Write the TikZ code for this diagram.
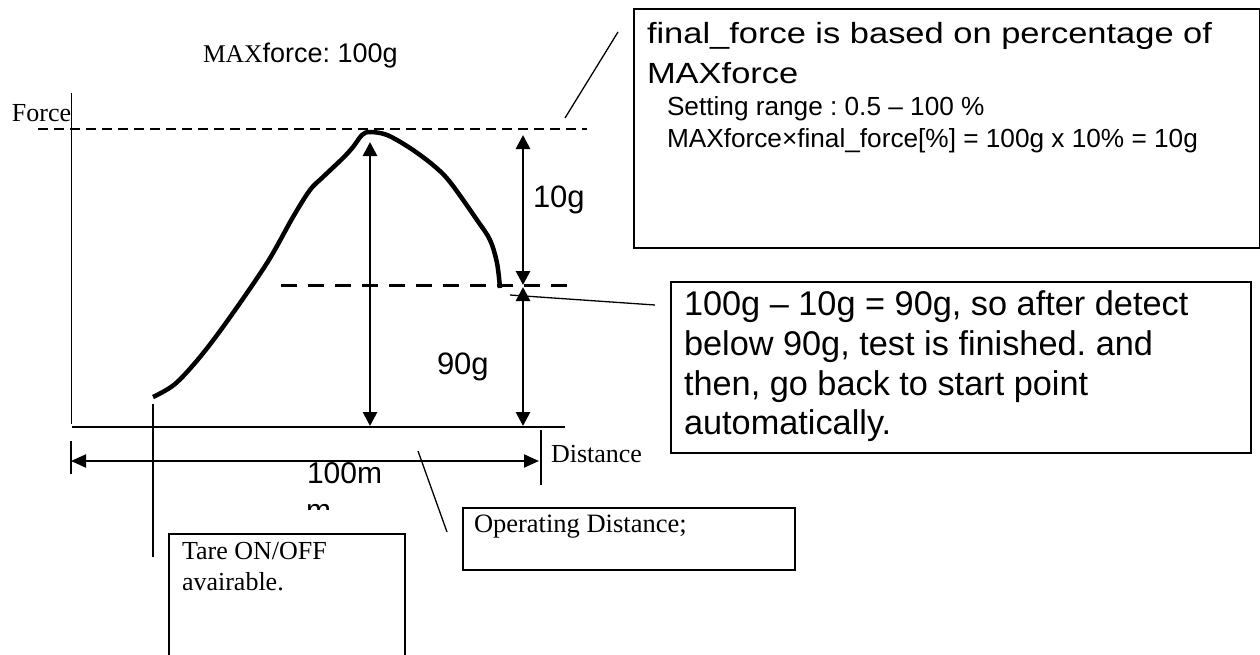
\documentclass[tikz,border=0pt]{standalone}
\usepackage{fontspec}
\setmainfont{Liberation Serif}
\newfontfamily\ars{Liberation Sans}
\newfontfamily\arsw[FakeStretch=1.18]{Liberation Sans}
\usetikzlibrary{arrows.meta}
\frenchspacing
\begin{document}
\begin{tikzpicture}[x=1pt,y=-1pt,
  lbl/.style={inner sep=0pt, outer sep=0pt, anchor=base west},
  serif/.style={lbl, font=\fontsize{26}{30}\selectfont},
  thinline/.style={line width=1.3pt},
  boxline/.style={draw, line width=1.8pt, inner sep=0pt, anchor=north west},
  dimarrow/.style={line width=2.8pt, {Triangle[width=14pt,length=14pt]}-{Triangle[width=14pt,length=14pt]}},
  distarrow/.style={line width=2pt, {Triangle[width=13pt,length=15pt]}-{Triangle[width=13pt,length=15pt]}},
  thindash/.style={line width=1.8pt, dash pattern=on 10pt off 6pt},
  thickdash/.style={line width=3.6pt, dash pattern=on 16pt off 11pt},
  curve/.style={line width=4.5pt, line join=round}
]
\useasboundingbox (0,0) rectangle (1260,654);

% axes
\coordinate (yaxTop) at (71.5,93);
\coordinate (yaxBot) at (71.5,424);
\coordinate (xaxL) at (72,427);
\coordinate (xaxR) at (565,427);
\draw[thinline] (yaxTop) -- (yaxBot);
\draw[thinline] (xaxL) -- (xaxR);

% dashed reference lines
\coordinate (topDashL) at (38,129);
\coordinate (topDashR) at (587,129);
\draw[thindash] (topDashL) -- (topDashR);
\coordinate (lowDashL) at (281,285.5);
\coordinate (lowDashR) at (567,285.5);
\draw[thickdash] (lowDashL) -- (lowDashR);

% force curve
\draw[curve] plot[smooth, tension=0.55] coordinates {
 (153,397) (175,384) (200,357) (228,320) (267,263) (293,217)
 (310,190) (323,177) (343,158) (353,147) (362,135) (370,132) (387,135)
 (410,148) (433,165) (450,182) (477,220) (490,240) (497,263) (500,288)};

% dimension arrows
\coordinate (mA) at (370,142);
\coordinate (mB) at (370,426);
\draw[dimarrow] (mA) -- (mB);
\coordinate (rA) at (523,135);
\coordinate (rB) at (523,285);
\draw[dimarrow] (rA) -- (rB);
\coordinate (rC) at (523,287);
\coordinate (rD) at (523,426);
\draw[dimarrow] (rC) -- (rD);

% distance dimension
\coordinate (tickLt) at (71,441);
\coordinate (tickLb) at (71,474);
\draw[line width=1.5pt] (tickLt) -- (tickLb);
\coordinate (tickRt) at (541,430);
\coordinate (tickRb) at (541,485);
\draw[thinline] (tickRt) -- (tickRb);
\coordinate (dL) at (71,461);
\coordinate (dR) at (539,461);
\draw[distarrow] (dL) -- (dR);

% labels
\node[lbl] (maxf) at (203,62) {{\fontsize{25.5}{30}\selectfont MAX}{\ars\fontsize{27}{30}\selectfont force: 100g}};
\node[serif] (force) at (12,121) {Force};
\node[serif] (dist) at (551,462) {Distance};
\node[lbl, font=\ars\fontsize{31}{36}\selectfont] (tenG) at (533,207) {10g};
\node[lbl, font=\ars\fontsize{31}{36}\selectfont] (ninetyG) at (437,374) {90g};
\node[lbl, font=\ars\fontsize{30}{36}\selectfont] (hundm) at (307,483) {100m};
\begin{scope}
\clip (0,0) rectangle (1260,509);
\node[lbl, font=\ars\fontsize{30}{36}\selectfont] (hundm2) at (306,520) {m};
\end{scope}

% box 1
\node[boxline, minimum width=626pt, minimum height=239pt] (box1) at (633,8) {};
\node[lbl, font=\arsw\fontsize{29.2}{36}\selectfont] (b1l1) at (647,43) {final\_force is based on percentage of};
\node[lbl, font=\arsw\fontsize{29.2}{36}\selectfont] (b1l2) at (647,83) {MAXforce};
\node[lbl, font=\ars\fontsize{26.2}{30}\selectfont] (b1l3) at (667,115) {Setting range : 0.5 – 100 \%};
\node[lbl, font=\ars\fontsize{26.2}{30}\selectfont] (b1l4) at (667,147) {MAXforce×final\_force[\%] = 100g x 10\% = 10g};
\coordinate (lead1a) at (565,118);
\coordinate (lead1b) at (618,32);
\draw[thinline] (lead1a) -- (lead1b);

% box 2
\node[boxline, minimum width=580pt, minimum height=171pt] (box2) at (670,281) {};
\node[lbl, font=\ars\fontsize{34.3}{40}\selectfont] (b2l1) at (684,315) {100g – 10g = 90g, so after detect};
\node[lbl, font=\ars\fontsize{34.3}{40}\selectfont] (b2l2) at (684,355.5) {below 90g, test is finished. and};
\node[lbl, font=\ars\fontsize{34.3}{40}\selectfont] (b2l3) at (684,395.5) {then, go back to start point};
\node[lbl, font=\ars\fontsize{34.3}{40}\selectfont] (b2l4) at (684,434) {automatically.};
\coordinate (lead2a) at (510,295);
\coordinate (lead2b) at (655,305);
\draw[thinline] (lead2a) -- (lead2b);

% operating distance box
\node[boxline, minimum width=332pt, minimum height=62pt] (opbox) at (462,507) {};
\node[serif, font=\fontsize{26.5}{30}\selectfont] (optext) at (474,532) {Operating Distance;};
\coordinate (lead3a) at (418,451);
\coordinate (lead3b) at (447,532);
\draw[thinline] (lead3a) -- (lead3b);

% tare box (extends past the bottom edge)
\node[boxline, minimum width=236pt, minimum height=160pt] (tarebox) at (168,533) {};
\node[serif] (tare1) at (182,559) {Tare ON/OFF};
\node[serif] (tare2) at (182,590.5) {avairable.};
\coordinate (lead4a) at (153,404);
\coordinate (lead4b) at (153,557);
\draw[thinline] (lead4a) -- (lead4b);
\end{tikzpicture}
\end{document}
